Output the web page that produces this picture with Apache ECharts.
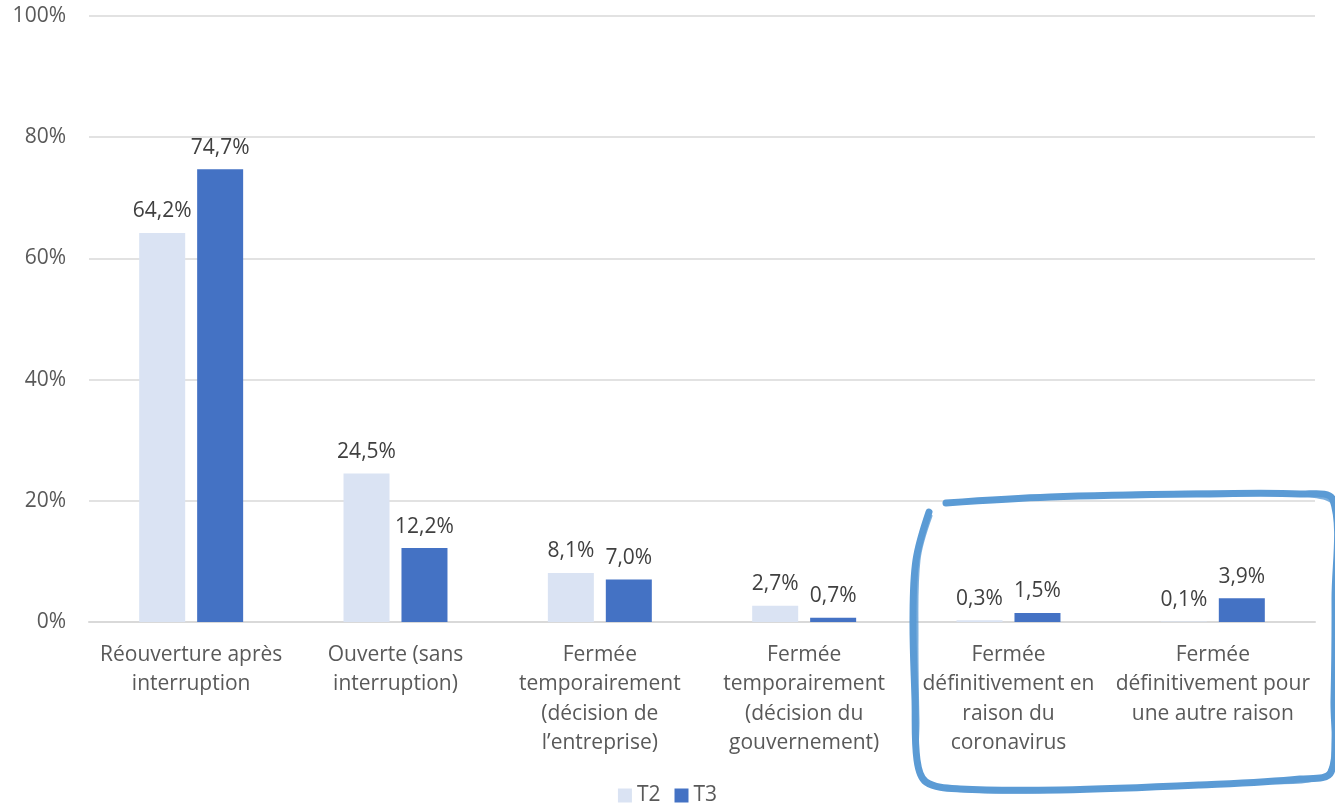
<!DOCTYPE html>
<html>
<head>
<meta charset="utf-8">
<script src="https://cdn.jsdelivr.net/npm/echarts@6/dist/echarts.min.js"></script>
<style>
  html, body { margin: 0; padding: 0; background: #fff; }
  #chart { width: 1335px; height: 805px; }
</style>
</head>
<body>
<div id="chart"></div>
<script>
const categories = [
  'Réouverture après\ninterruption',
  'Ouverte (sans\ninterruption)',
  'Fermée\ntemporairement\n(décision de\nl\u2019entreprise)',
  'Fermée\ntemporairement\n(décision du\ngouvernement)',
  'Fermée\ndéfinitivement en\nraison du\ncoronavirus',
  'Fermée\ndéfinitivement pour\nune autre raison'
];
const t2Values = [64.2, 24.5, 8.1, 2.7, 0.3, 0.1];
const t3Values = [74.7, 12.2, 7.0, 0.7, 1.5, 3.9];
const yTicks = [0, 20, 40, 60, 80, 100];

const font = '"Open Sans", Lato, sans-serif';
const textColor = '#595959';

function pct(v) {
  return v.toFixed(1).replace('.', ',') + '%';
}

const chart = echarts.init(document.getElementById('chart'));

// contour bleu dessiné à la main autour des deux dernières catégories
const scribble = [
  [946, 503], [1050, 497], [1200, 494], [1300, 494], [1333, 500],
  [1335, 600], [1334, 700], [1331, 772], [1300, 779], [1200, 785],
  [1060, 790], [960, 789], [926, 782], [917, 760], [915, 700],
  [913, 620], [916, 560], [929, 512]
];
const scribble2 = [
  [960, 501], [1080, 495], [1220, 492], [1310, 496], [1334, 506],
  [1336, 620], [1333, 740], [1325, 776], [1250, 783], [1120, 789],
  [1000, 792], [940, 787], [920, 772], [918, 720], [917, 640],
  [919, 560], [931, 516]
];

chart.setOption({
  animation: false,
  textStyle: { fontFamily: font },
  grid: {
    left: 89,
    right: 20,
    top: 16,
    bottom: 183
  },
  legend: {
    data: ['T2', 'T3'],
    left: 'center',
    top: 780,
    itemWidth: 14,
    itemHeight: 14,
    itemGap: 14,
    icon: 'rect',
    textStyle: { color: textColor, fontSize: 21, fontFamily: font }
  },
  xAxis: {
    type: 'category',
    data: categories,
    axisTick: { show: false },
    axisLine: { lineStyle: { color: '#d9d9d9', width: 2 } },
    axisLabel: {
      color: textColor,
      fontSize: 21,
      lineHeight: 29.5,
      margin: 18,
      interval: 0,
      align: 'center'
    }
  },
  yAxis: {
    type: 'value',
    min: yTicks[0],
    max: yTicks[yTicks.length - 1],
    interval: 20,
    axisLine: { show: false },
    axisTick: { show: false },
    splitLine: { lineStyle: { color: '#d9d9d9', width: 1.5 } },
    axisLabel: {
      color: textColor,
      fontSize: 21,
      margin: 23,
      formatter: function (v) { return v + '%'; }
    }
  },
  series: [
    {
      name: 'T2',
      type: 'bar',
      data: t2Values,
      barWidth: 46,
      barGap: '26%',
      itemStyle: { color: '#dae3f3' },
      label: {
        show: true,
        position: 'top',
        distance: 11,
        color: '#404040',
        fontSize: 21,
        formatter: function (p) { return pct(p.value); }
      }
    },
    {
      name: 'T3',
      type: 'bar',
      data: t3Values,
      barWidth: 46,
      itemStyle: { color: '#4472c4' },
      label: {
        show: true,
        position: 'top',
        distance: 11,
        color: '#404040',
        fontSize: 21,
        formatter: function (p) { return pct(p.value); }
      }
    }
  ],
  graphic: [
    {
      type: 'polyline',
      z: 100,
      shape: { points: scribble, smooth: 0.35 },
      style: { stroke: '#5b9bd5', lineWidth: 7, fill: null, lineCap: 'round', lineJoin: 'round' }
    },
    {
      type: 'polyline',
      z: 100,
      shape: { points: scribble2, smooth: 0.35 },
      style: { stroke: '#5b9bd5', lineWidth: 3, fill: null, opacity: 0.8, lineCap: 'round', lineJoin: 'round' }
    }
  ]
});
</script>
</body>
</html>
